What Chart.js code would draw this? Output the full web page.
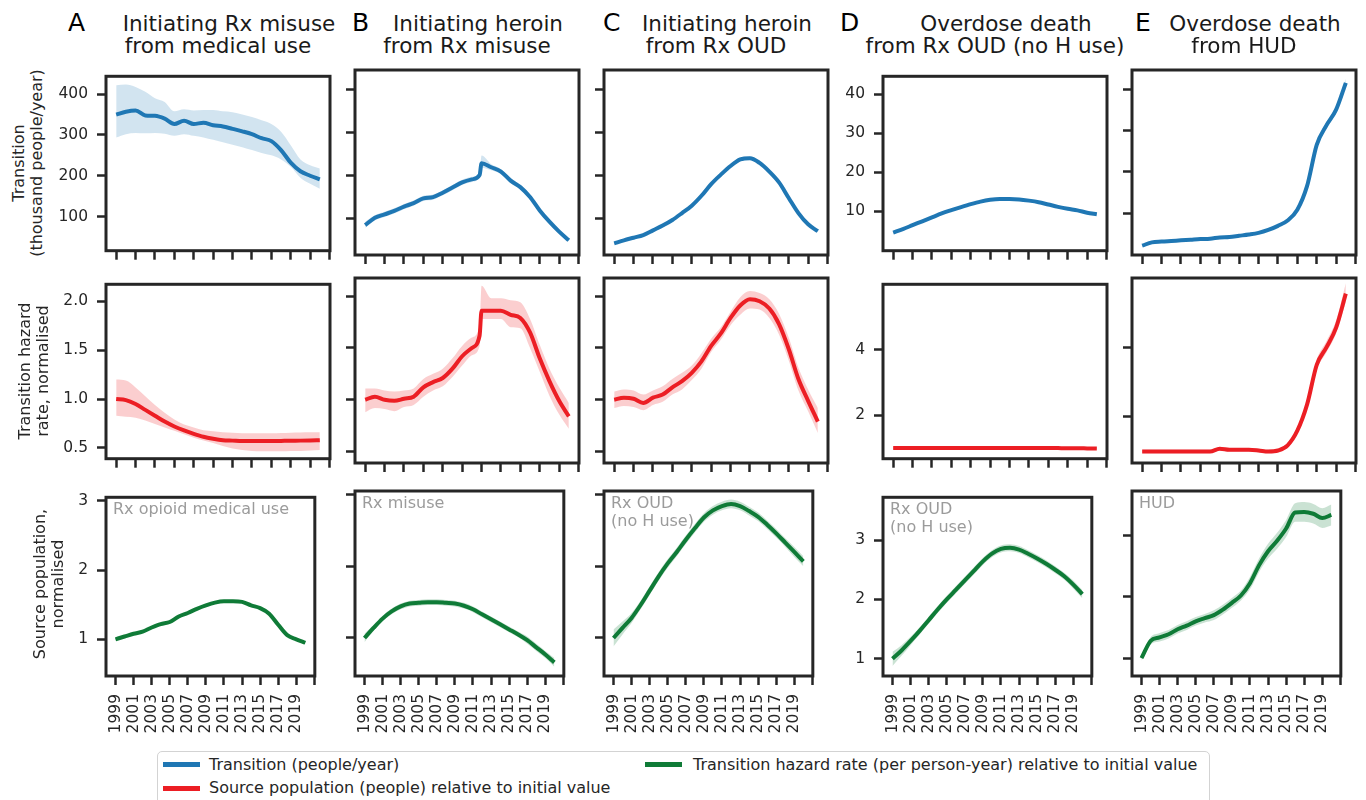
<!DOCTYPE html>
<html>
<head>
<meta charset="utf-8">
<title>Opioid transitions</title>
<script src="https://cdn.jsdelivr.net/npm/chart.js@4.4.1/dist/chart.umd.min.js"></script>
<style>
  body { margin: 0; width: 1366px; height: 800px; overflow: hidden; position: relative; background: #fff;
         font-family: "DejaVu Sans", sans-serif; color: #262626; }
  canvas { position: absolute; }
  .letter { position: absolute; top: 9px; font-size: 25px; line-height: 28px; color: #000; }
  .title { position: absolute; width: 400px; text-align: center; font-size: 21.5px; line-height: 23px; color: #1a1a1a; white-space: nowrap; }
  .ylab { position: absolute; font-size: 16px; line-height: 18px; text-align: center; white-space: nowrap;
          transform: translate(-50%, -50%) rotate(-90deg); }
  .legend { position: absolute; left: 157px; top: 751px; width: 1051px; height: 70px; border: 1.5px solid #d3d3d3; border-radius: 5px; }
  .item { position: absolute; font-size: 16px; line-height: 18px; white-space: nowrap; }
  .swatch { position: absolute; width: 37px; height: 5px; }
</style>
</head>
<body>
<script>
// ---- data ----
const years = [1999, 2000, 2001, 2002, 2003, 2004, 2005, 2006, 2007, 2008, 2009, 2010,
  2011, 2012, 2013, 2014, 2015, 2016, 2017, 2018, 2019, 2020];
// panel B has a step just before 2011
const yearsB = [1999, 2000, 2001, 2002, 2003, 2004, 2005, 2006, 2007, 2008, 2009, 2010, 2010.8,
  2011, 2012, 2013, 2014, 2015, 2016, 2017, 2018, 2019, 2020];
const xTicks = [1999, 2001, 2003, 2005, 2007, 2009, 2011, 2013, 2015, 2017, 2019, 2021];

// row 1: transitions (thousand people/year)
const transA   = [350, 357, 360, 348, 347, 340, 327, 335, 327, 330, 324, 321, 315, 309, 302, 292, 285, 263, 232, 211, 200, 191];
const transAHi = [422, 424, 418, 406, 390, 381, 358, 363, 360, 361, 361, 358, 356, 350, 344, 336, 327, 308, 275, 240, 226, 218];
const transALo = [294, 302, 305, 304, 305, 303, 298, 302, 298, 294, 288, 282, 276, 270, 263, 256, 250, 240, 222, 195, 180, 168];
const transB   = [85, 102, 110, 118, 128, 136, 147, 150, 160, 172, 184, 191, 201, 228, 219, 209, 188, 173, 150, 119, 93, 70, 50];
const transBHi = [93, 108, 116, 124, 134, 142, 153, 156, 166, 178, 190, 197, 207, 246, 226, 215, 194, 178, 155, 123, 97, 73, 53];
const transBLo = [79, 96, 104, 112, 122, 130, 141, 144, 154, 166, 178, 185, 196, 218, 212, 203, 182, 168, 145, 115, 89, 67, 47];
const transC   = [43, 50, 56, 62, 73, 84, 97, 113, 130, 153, 180, 202, 222, 237, 240, 229, 209, 184, 148, 113, 87, 71];
const transCHi = [46, 53, 59, 65, 76, 87, 100, 116, 133, 156, 183, 205, 226, 241, 244, 233, 213, 188, 152, 117, 90, 74];
const transCLo = [40, 47, 53, 59, 70, 81, 94, 110, 127, 150, 177, 199, 218, 233, 236, 225, 205, 180, 144, 109, 84, 68];
const transD   = [4.5, 5.4, 6.4, 7.4, 8.4, 9.4, 10.25, 11.05, 11.8, 12.45, 12.9, 13.1, 13.1, 13.0, 12.7, 12.3, 11.7, 11.1, 10.6, 10.2, 9.6, 9.2];
const transDHi = [4.75, 5.65, 6.65, 7.65, 8.65, 9.65, 10.5, 11.3, 12.05, 12.7, 13.15, 13.35, 13.35, 13.25, 12.95, 12.55, 11.95, 11.35, 10.85, 10.45, 9.85, 9.45];
const transDLo = [4.25, 5.15, 6.15, 7.15, 8.15, 9.15, 10.0, 10.8, 11.55, 12.2, 12.65, 12.85, 12.85, 12.75, 12.45, 12.05, 11.45, 10.85, 10.35, 9.95, 9.35, 8.95];
const transE   = [2.1, 2.9, 3.1, 3.25, 3.4, 3.55, 3.7, 3.8, 4.1, 4.2, 4.5, 4.8, 5.2, 5.9, 6.9, 8.2, 10.8, 16.5, 26.5, 31.2, 35.0, 41.5];
const transEHi = [2.4, 3.2, 3.4, 3.55, 3.7, 3.85, 4.0, 4.1, 4.4, 4.5, 4.8, 5.1, 5.5, 6.2, 7.2, 8.5, 11.2, 17.0, 27.2, 32.0, 35.8, 42.5];
const transELo = [1.8, 2.6, 2.8, 2.95, 3.1, 3.25, 3.4, 3.5, 3.8, 3.9, 4.2, 4.5, 4.9, 5.6, 6.6, 7.9, 10.4, 16.0, 25.8, 30.4, 34.2, 40.5];

// row 2: transition hazard rate, normalised
const hazA   = [1.00, 0.99, 0.95, 0.89, 0.83, 0.77, 0.72, 0.68, 0.645, 0.615, 0.595, 0.58, 0.575, 0.57, 0.57, 0.57, 0.57, 0.572, 0.574, 0.575, 0.577, 0.58];
const hazAHi = [1.20, 1.19, 1.12, 1.03, 0.94, 0.86, 0.79, 0.74, 0.71, 0.68, 0.67, 0.66, 0.655, 0.65, 0.65, 0.65, 0.65, 0.652, 0.655, 0.657, 0.66, 0.66];
const hazALo = [0.83, 0.82, 0.81, 0.78, 0.745, 0.71, 0.675, 0.64, 0.605, 0.575, 0.55, 0.52, 0.495, 0.48, 0.47, 0.465, 0.465, 0.465, 0.468, 0.47, 0.475, 0.48];
const hazB   = [1.00, 1.03, 1.00, 0.99, 1.01, 1.03, 1.12, 1.17, 1.21, 1.30, 1.42, 1.50, 1.62, 1.86, 1.86, 1.86, 1.82, 1.79, 1.65, 1.40, 1.18, 0.99, 0.84];
const hazBHi = [1.11, 1.11, 1.09, 1.08, 1.09, 1.11, 1.20, 1.25, 1.30, 1.40, 1.52, 1.60, 1.72, 2.10, 1.98, 1.98, 1.96, 1.94, 1.78, 1.53, 1.30, 1.12, 0.97];
const hazBLo = [0.88, 0.92, 0.91, 0.89, 0.93, 0.95, 1.03, 1.09, 1.13, 1.22, 1.33, 1.43, 1.52, 1.78, 1.78, 1.78, 1.70, 1.69, 1.50, 1.27, 1.04, 0.86, 0.72];
const hazC   = [1.00, 1.02, 1.01, 0.97, 1.02, 1.05, 1.12, 1.18, 1.26, 1.37, 1.52, 1.64, 1.79, 1.91, 1.97, 1.95, 1.88, 1.73, 1.49, 1.20, 0.99, 0.79];
const hazCHi = [1.08, 1.10, 1.09, 1.05, 1.09, 1.13, 1.20, 1.26, 1.33, 1.45, 1.59, 1.70, 1.85, 1.99, 2.05, 2.03, 1.97, 1.83, 1.60, 1.31, 1.10, 0.92];
const hazCLo = [0.92, 0.94, 0.93, 0.90, 0.95, 0.98, 1.05, 1.10, 1.19, 1.30, 1.46, 1.58, 1.72, 1.82, 1.88, 1.87, 1.79, 1.63, 1.38, 1.09, 0.89, 0.68];
const hazD   = [1.0, 1.0, 1.0, 1.0, 1.0, 1.0, 1.0, 1.0, 1.0, 1.0, 1.0, 1.0, 1.0, 1.0, 1.0, 1.0, 1.0, 0.995, 0.99, 0.99, 0.985, 0.98];
const hazDHi = [1.03, 1.03, 1.03, 1.03, 1.03, 1.03, 1.03, 1.03, 1.03, 1.03, 1.03, 1.03, 1.03, 1.03, 1.03, 1.03, 1.03, 1.025, 1.02, 1.02, 1.015, 1.01];
const hazDLo = [0.97, 0.97, 0.97, 0.97, 0.97, 0.97, 0.97, 0.97, 0.97, 0.97, 0.97, 0.97, 0.97, 0.97, 0.97, 0.97, 0.97, 0.965, 0.96, 0.96, 0.955, 0.95];
const hazE   = [1.0, 1.0, 1.0, 1.0, 1.0, 1.0, 1.0, 1.0, 1.08, 1.05, 1.05, 1.05, 1.03, 1.0, 1.03, 1.18, 1.6, 2.35, 3.5, 4.0, 4.57, 5.55];
const hazEHi = [1.05, 1.05, 1.05, 1.05, 1.05, 1.05, 1.05, 1.05, 1.13, 1.1, 1.1, 1.1, 1.08, 1.05, 1.08, 1.24, 1.68, 2.47, 3.65, 4.18, 4.78, 5.85];
const hazELo = [0.95, 0.95, 0.95, 0.95, 0.95, 0.95, 0.95, 0.95, 1.03, 1.0, 1.0, 1.0, 0.98, 0.95, 0.98, 1.12, 1.52, 2.22, 3.35, 3.85, 4.4, 5.3];

// row 3: source population, normalised
const popA   = [1.00, 1.04, 1.08, 1.11, 1.17, 1.22, 1.25, 1.33, 1.38, 1.44, 1.49, 1.53, 1.55, 1.55, 1.54, 1.49, 1.45, 1.37, 1.21, 1.06, 1.00, 0.95];
const popAHi = [1.015, 1.055, 1.095, 1.125, 1.185, 1.235, 1.265, 1.345, 1.395, 1.455, 1.505, 1.545, 1.565, 1.565, 1.555, 1.505, 1.465, 1.385, 1.225, 1.075, 1.015, 0.965];
const popALo = [0.985, 1.025, 1.065, 1.095, 1.155, 1.205, 1.235, 1.315, 1.365, 1.425, 1.475, 1.515, 1.535, 1.535, 1.525, 1.475, 1.435, 1.355, 1.195, 1.045, 0.985, 0.935];
const popB   = [1.00, 1.14, 1.27, 1.37, 1.44, 1.48, 1.49, 1.50, 1.50, 1.49, 1.48, 1.45, 1.40, 1.33, 1.26, 1.19, 1.12, 1.05, 0.97, 0.87, 0.77, 0.66];
const popBHi = [1.06, 1.18, 1.31, 1.41, 1.48, 1.52, 1.53, 1.54, 1.54, 1.53, 1.52, 1.49, 1.44, 1.37, 1.30, 1.23, 1.16, 1.09, 1.02, 0.92, 0.82, 0.72];
const popBLo = [0.94, 1.10, 1.23, 1.33, 1.40, 1.44, 1.45, 1.46, 1.46, 1.45, 1.44, 1.41, 1.36, 1.29, 1.22, 1.15, 1.08, 1.01, 0.92, 0.82, 0.72, 0.60];
const popC   = [1.00, 1.14, 1.28, 1.46, 1.66, 1.86, 2.04, 2.20, 2.37, 2.53, 2.68, 2.78, 2.84, 2.87, 2.84, 2.77, 2.69, 2.58, 2.46, 2.33, 2.20, 2.07];
const popCHi = [1.12, 1.23, 1.35, 1.52, 1.72, 1.92, 2.10, 2.26, 2.43, 2.59, 2.74, 2.84, 2.90, 2.93, 2.90, 2.83, 2.75, 2.64, 2.52, 2.39, 2.27, 2.14];
const popCLo = [0.88, 1.05, 1.21, 1.40, 1.60, 1.80, 1.98, 2.14, 2.31, 2.47, 2.62, 2.72, 2.78, 2.81, 2.78, 2.71, 2.63, 2.52, 2.40, 2.27, 2.13, 2.00];
const popD   = [1.00, 1.14, 1.30, 1.47, 1.65, 1.83, 2.00, 2.16, 2.32, 2.48, 2.64, 2.77, 2.85, 2.87, 2.84, 2.77, 2.69, 2.60, 2.50, 2.39, 2.25, 2.09];
const popDHi = [1.12, 1.23, 1.37, 1.53, 1.71, 1.89, 2.06, 2.22, 2.38, 2.54, 2.70, 2.83, 2.91, 2.93, 2.90, 2.83, 2.75, 2.66, 2.56, 2.45, 2.32, 2.16];
const popDLo = [0.88, 1.05, 1.23, 1.41, 1.59, 1.77, 1.94, 2.10, 2.26, 2.42, 2.58, 2.71, 2.79, 2.81, 2.78, 2.71, 2.63, 2.54, 2.44, 2.33, 2.18, 2.02];
const popE   = [1.00, 1.28, 1.34, 1.39, 1.47, 1.53, 1.60, 1.65, 1.70, 1.79, 1.90, 2.02, 2.22, 2.51, 2.74, 2.91, 3.11, 3.37, 3.38, 3.35, 3.28, 3.33];
const popEHi = [1.04, 1.34, 1.41, 1.46, 1.54, 1.60, 1.67, 1.72, 1.78, 1.87, 1.98, 2.10, 2.32, 2.62, 2.86, 3.04, 3.25, 3.52, 3.54, 3.51, 3.44, 3.50];
const popELo = [0.96, 1.22, 1.27, 1.32, 1.40, 1.46, 1.53, 1.58, 1.62, 1.71, 1.82, 1.94, 2.12, 2.40, 2.62, 2.78, 2.97, 3.22, 3.22, 3.19, 3.12, 3.16];

const letters = ['A', 'B', 'C', 'D', 'E'];
const titles = [
  ['Initiating Rx misuse', 'from medical use'],
  ['Initiating heroin', 'from Rx misuse'],
  ['Initiating heroin', 'from Rx OUD'],
  ['Overdose death', 'from Rx OUD (no H use)'],
  ['Overdose death', 'from HUD'],
];
const sourceNames = [['Rx opioid medical use'], ['Rx misuse'], ['Rx OUD', '(no H use)'], ['Rx OUD', '(no H use)'], ['HUD']];
const rowLabels = [['Transition', '(thousand people/year)'], ['Transition hazard', 'rate, normalised'], ['Source population,', 'normalised']];
const legendLabels = ['Transition (people/year)', 'Source population (people) relative to initial value',
  'Transition hazard rate (per person-year) relative to initial value'];

// ---- layout / style ----
const colL = [106, 355, 604, 883, 1132];
const colW = 224;
const rowT = [70, 278, 491];
const rowH = 185;
const YW = 60, PAD = 12;
const ink = '#262626';
const rowColor = ['#1f77b4', '#ec1e24', '#0f7b37'];
const rowBand = ['rgba(31,119,180,0.2)', 'rgba(236,30,36,0.22)', 'rgba(15,123,55,0.22)'];
// y scales: [row][group] (group 0 = A-C, group 1 = D-E)
const yScales = [
  [{ min: 16, max: 444, ticks: [100, 200, 300, 400] }, { min: -0.15, max: 44.6, ticks: [10, 20, 30, 40] }],
  [{ min: 0.39, max: 2.175, ticks: [0.5, 1.0, 1.5, 2.0], dec: 1 }, { min: 0.67, max: 6.0, ticks: [2, 4] }],
  [{ min: 0.47, max: 3.05, ticks: [1, 2, 3] }, { min: 0.71, max: 3.72, ticks: [1, 2, 3] }],
];

const panels = [
  [[years, transA, transAHi, transALo], [yearsB, transB, transBHi, transBLo], [years, transC, transCHi, transCLo],
   [years, transD, transDHi, transDLo], [years, transE, transEHi, transELo]],
  [[years, hazA, hazAHi, hazALo], [yearsB, hazB, hazBHi, hazBLo], [years, hazC, hazCHi, hazCLo],
   [years, hazD, hazDHi, hazDLo], [years, hazE, hazEHi, hazELo]],
  [[years, popA, popAHi, popALo], [years, popB, popBHi, popBLo], [years, popC, popCHi, popCLo],
   [years, popD, popDHi, popDLo], [years, popE, popEHi, popELo]],
];

Chart.defaults.font.family = '"DejaVu Sans", sans-serif';
Chart.defaults.color = ink;

const framePlugin = {
  id: 'frame',
  afterDatasetsDraw(chart) {
    const { ctx, chartArea: a } = chart;
    ctx.save();
    ctx.strokeStyle = ink;
    ctx.lineWidth = 3;
    ctx.strokeRect(a.left, a.top, a.right - a.left, a.bottom - a.top);
    ctx.restore();
  },
};

const tagPlugin = {
  id: 'tag',
  afterDraw(chart, args, opts) {
    if (!opts.lines) return;
    const { ctx, chartArea: a } = chart;
    ctx.save();
    ctx.fillStyle = '#9b9b9b';
    ctx.font = '16px "DejaVu Sans"';
    ctx.textBaseline = 'top';
    opts.lines.forEach((t, i) => ctx.fillText(t, a.left + 7, a.top + 5 + i * 18));
    ctx.restore();
  },
};

const pts = (xs, ys) => xs.map((x, i) => ({ x, y: ys[i] }));

function makePanel(row, col) {
  const [xs, mid, hi, lo] = panels[row][col];
  const grp = col < 3 ? 0 : 1;
  const ys = yScales[row][grp];
  const bottom = row === 2;
  const xh = bottom ? 72 : 14;
  const cv = document.createElement('canvas');
  cv.width = YW + colW + PAD;
  cv.height = PAD + rowH + xh;
  cv.style.left = (colL[col] - YW) + 'px';
  cv.style.top = (rowT[row] - PAD) + 'px';
  document.body.appendChild(cv);

  const line = { cubicInterpolationMode: 'monotone', pointRadius: 0 };
  const tickGrid = { drawOnChartArea: false, drawTicks: true, tickLength: 9, tickWidth: 2.5, tickColor: ink };
  new Chart(cv, {
    type: 'line',
    data: {
      datasets: [
        { ...line, data: pts(xs, mid), borderColor: rowColor[row], borderWidth: 4, fill: false },
        { ...line, data: pts(xs, hi), borderColor: 'transparent', borderWidth: 0, backgroundColor: rowBand[row], fill: '+1' },
        { ...line, data: pts(xs, lo), borderColor: 'transparent', borderWidth: 0, fill: false },
      ],
    },
    options: {
      responsive: false,
      animation: false,
      layout: { padding: { top: PAD, right: PAD, left: 0, bottom: 0 } },
      plugins: {
        legend: { display: false },
        tooltip: { enabled: false },
        tag: { lines: bottom ? sourceNames[col] : null },
      },
      scales: {
        x: {
          type: 'linear', min: 1997.95, max: 2021.05, bounds: 'data',
          afterBuildTicks: (s) => { s.ticks = xTicks.map((v) => ({ value: v })); },
          afterFit: (s) => { s.height = xh; },
          border: { display: false },
          grid: tickGrid,
          ticks: {
            display: bottom, autoSkip: false, minRotation: 90, maxRotation: 90, padding: 9,
            font: { size: 15.5 }, color: ink,
            callback: (v) => (v === 2021 ? '' : String(v)),
          },
        },
        y: {
          type: 'linear', min: ys.min, max: ys.max, bounds: 'data',
          afterBuildTicks: (s) => { s.ticks = ys.ticks.map((v) => ({ value: v })); },
          afterFit: (s) => { s.width = YW; },
          border: { display: false },
          grid: tickGrid,
          ticks: {
            display: col === 0 || col === 3, padding: 9, font: { size: 15.5 }, color: ink,
            callback: (v) => (ys.dec ? v.toFixed(ys.dec) : String(v)),
          },
        },
      },
    },
    plugins: [framePlugin, tagPlugin],
  });
}

for (let r = 0; r < 3; r++) for (let c = 0; c < 5; c++) makePanel(r, c);

// ---- text: letters, titles, row labels ----
const letterX = [68, 352, 603, 840, 1135];
function addDiv(cls, text, style) {
  const d = document.createElement('div');
  d.className = cls;
  d.innerHTML = text;
  Object.assign(d.style, style);
  document.body.appendChild(d);
  return d;
}
letters.forEach((l, i) => addDiv('letter', l, { left: letterX[i] + 'px' }));
titles.forEach((t, i) => {
  const cx = colL[i] + colW / 2;
  addDiv('title', t[0], { left: (cx + 11 - 200) + 'px', top: '11.5px' });
  addDiv('title', t[1], { left: (cx - 200) + 'px', top: '34px' });
});
const ylabX = [27.5, 34, 49];
rowLabels.forEach((t, r) => {
  addDiv('ylab', t.join('<br>'), { left: ylabX[r] + 'px', top: (rowT[r] + rowH / 2) + 'px' });
});

// ---- legend ----
addDiv('legend', '', {});
const legPos = [[163, 209, 762, 755.5], [163, 209, 786, 779], [645, 693, 762, 755.5]];
const legColor = ['#1f77b4', '#ec1e24', '#0f7b37'];
legendLabels.forEach((t, i) => {
  const [sx, tx, sy, ty] = legPos[i];
  addDiv('swatch', '', { left: sx + 'px', top: sy + 'px', background: legColor[i] });
  addDiv('item', t, { left: tx + 'px', top: ty + 'px' });
});
</script>
</body>
</html>
